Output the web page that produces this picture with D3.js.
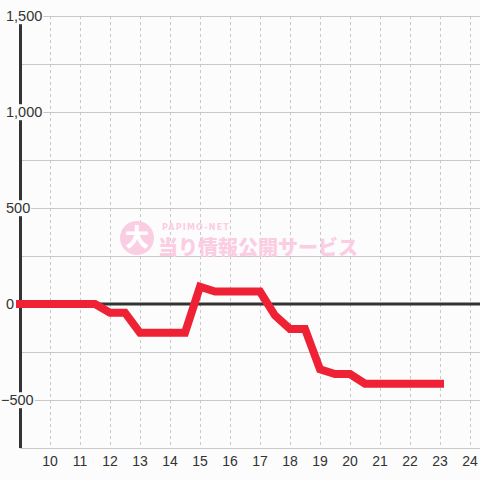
<!DOCTYPE html>
<html><head><meta charset="utf-8">
<script src="https://cdn.jsdelivr.net/npm/d3@7"></script>
<style>html,body{margin:0;padding:0;background:#fbfcfb;}svg{display:block;}</style>
</head><body>
<svg id="c" width="480" height="480"></svg>
<script>
const hours = [9, 11.5, 12, 12.5, 13, 14.5, 15, 15.5, 17, 17.5, 18, 18.5, 19, 19.5, 20, 20.5, 23];
const values = [0, 0, -45, -45, -150, -150, 90, 65, 65, -60, -130, -130, -340, -365, -365, -415, -415];
const xTicks = [10, 11, 12, 13, 14, 15, 16, 17, 18, 19, 20, 21, 22, 23, 24];
const yTicks = [1500, 1000, 500, 0, -500];
const yGrid = [1500, 1250, 1000, 750, 500, 250, -250, -500, -750];

const svg = d3.select("#c");
const x = d3.scaleLinear().domain([9, 24 + 1/3]).range([20, 480]);
const y = d3.scaleLinear().domain([-750, 1500]).range([448, 16]);
const fmt = d3.format(",");

svg.append("rect").attr("width", 480).attr("height", 480).attr("fill", "#fbfcfb");

// vertical dashed grid
svg.append("g").selectAll("line").data(xTicks).join("line")
  .attr("x1", d => Math.round(x(d)) + 0.5).attr("x2", d => Math.round(x(d)) + 0.5)
  .attr("y1", y(1500)).attr("y2", y(-750))
  .attr("stroke", "#c8c8c8").attr("stroke-width", 1).attr("stroke-dasharray", "3,3");

// horizontal grid
svg.append("g").selectAll("line").data(yGrid).join("line")
  .attr("x1", x(9)).attr("x2", 480)
  .attr("y1", d => Math.round(y(d)) + 0.5).attr("y2", d => Math.round(y(d)) + 0.5)
  .attr("stroke", "#c8c8c8").attr("stroke-width", 1.2);

// watermark
const wm = svg.append("g");
wm.append("circle").attr("cx", 137).attr("cy", 238).attr("r", 17).attr("fill", "#fbcde2");
wm.append("text").attr("x", 137).attr("y", 246).attr("text-anchor", "middle")
  .attr("font-family", "'Noto Sans CJK JP'").attr("font-weight", 900).attr("font-size", 24)
  .attr("fill", "#ffffff").text("大");
wm.append("text").attr("x", 162).attr("y", 230)
  .attr("font-family", "'DejaVu Sans'").attr("font-weight", "bold").attr("font-size", 8)
  .attr("letter-spacing", 1.2).attr("fill", "#fbcde2").text("PAPIMO-NET");
wm.append("text").attr("x", 158).attr("y", 255)
  .attr("font-family", "'Noto Sans CJK JP'").attr("font-weight", 900).attr("font-size", 20)
  .attr("fill", "#fbcde2").text("当り情報公開サービス");

// zero line
svg.append("line").attr("x1", x(9)).attr("x2", 480)
  .attr("y1", y(0)).attr("y2", y(0))
  .attr("stroke", "#333").attr("stroke-width", 3);

// y axis line
svg.append("line").attr("x1", 20.5).attr("x2", 20.5)
  .attr("y1", y(1500)).attr("y2", y(-750))
  .attr("stroke", "#333").attr("stroke-width", 3);

// data line
const line = d3.line().x((d, i) => x(hours[i])).y(d => y(d));
svg.append("path").datum(values).attr("d", line)
  .attr("fill", "none").attr("stroke", "#ef2135").attr("stroke-width", 8)
  .attr("stroke-linecap", "square").attr("stroke-linejoin", "miter");

// y labels with background
const yl = svg.append("g").selectAll("g").data(yTicks).join("g");
yl.each(function(d) {
  const g = d3.select(this);
  const t = g.append("text").attr("x", d < 0 ? 1 : 6).attr("y", y(d)).attr("dy", "0.36em")
    .attr("text-anchor", "start").attr("font-family", "'Liberation Sans', Arial, sans-serif")
    .attr("font-size", 14.5).attr("fill", "#333").text(fmt(d));
  const bb = t.node().getBBox();
  g.insert("rect", "text").attr("x", bb.x).attr("y", bb.y).attr("width", bb.width + 1)
    .attr("height", bb.height).attr("fill", "#fbfcfb");
});

// x labels
svg.append("g").selectAll("text").data(xTicks).join("text")
  .attr("x", d => x(d)).attr("y", 466).attr("text-anchor", "middle")
  .attr("font-family", "'Liberation Sans', Arial, sans-serif").attr("font-size", 14)
  .attr("fill", "#333").text(d => d);
</script>
</body></html>
